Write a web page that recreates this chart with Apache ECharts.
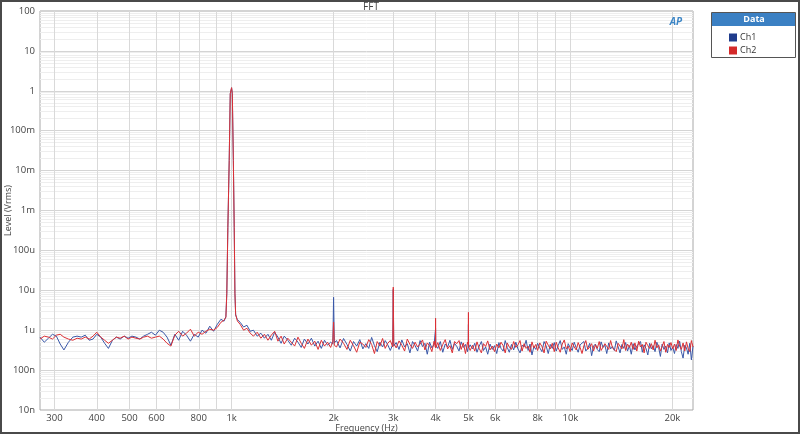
<!DOCTYPE html>
<html>
<head>
<meta charset="utf-8">
<script src="https://cdn.jsdelivr.net/npm/echarts@6/dist/echarts.min.js"></script>
<style>
html,body{margin:0;padding:0;background:#fff;}
#chart{width:800px;height:434px;}
</style>
</head>
<body>
<div id="chart"></div>
<script>
// Frequencies (Hz)
const freq = [
  272, 280, 288, 296, 304, 312, 320, 330, 340, 350,
  360, 370, 380, 390, 400, 411, 422, 433, 445, 457,
  469, 482, 495, 508, 522, 536, 550, 565, 580, 596,
  612, 628, 645, 662, 680, 698, 717, 736, 756, 776,
  797, 818, 840, 862, 885, 908, 930, 950, 962, 968,
  975, 984, 991, 1000, 1005, 1012, 1018, 1023, 1028, 1040,
  1060, 1085, 1110, 1135, 1160, 1190, 1220, 1250, 1280, 1310,
  1340, 1370, 1400, 1430, 1465, 1500, 1535, 1570, 1605, 1640,
  1680, 1720, 1760, 1800, 1840, 1880, 1920, 1960, 1990, 2000,
  2010, 2040, 2090, 2140, 2190, 2240, 2290, 2340, 2390, 2440,
  2490, 2540, 2590, 2640, 2690, 2740, 2790, 2840, 2890, 2940,
  2990, 3000, 3010, 3060, 3120, 3180, 3240, 3300, 3360, 3420,
  3480, 3540, 3600, 3660, 3720, 3780, 3840, 3900, 3960, 3995,
  4000, 4005, 4060, 4130, 4200, 4270, 4340, 4410, 4480, 4550,
  4620, 4690, 4760, 4830, 4900, 4970, 4995, 5000, 5005, 5060,
  5140, 5220, 5300, 5380, 5460, 5540, 5620, 5700, 5790, 5880,
  5970, 6060, 6150, 6240, 6330, 6420, 6510, 6600, 6700, 6800,
  6900, 7000, 7100, 7200, 7300, 7400, 7500, 7600, 7700, 7800,
  7900, 8000, 8120, 8240, 8360, 8480, 8600, 8720, 8840, 8960,
  9080, 9200, 9330, 9460, 9590, 9720, 9850, 9980, 10120, 10260,
  10400, 10540, 10680, 10820, 10960, 11100, 11250, 11400, 11550, 11700,
  11850, 12000, 12160, 12320, 12480, 12640, 12800, 12970, 13140, 13310,
  13480, 13650, 13830, 14010, 14190, 14370, 14550, 14740, 14930, 15120,
  15310, 15500, 15700, 15900, 16100, 16300, 16500, 16710, 16920, 17130,
  17340, 17550, 17770, 17990, 18210, 18430, 18650, 18880, 19110, 19340,
  19570, 19800, 20040, 20280, 20520, 20760, 21000, 21250, 21500, 21750,
  22000, 22250, 22500, 22750, 23000
];
// Ch1 level (µVrms)
const ch1 = [
  .67, .50, .63, .79, .71, .45, .32, .50, .67, .71,
  .67, .75, .56, .60, .79, .67, .47, .35, .56, .67,
  .60, .71, .63, .71, .67, .60, .71, .79, .89, .75,
  1.0, .89, .67, .42, .79, .56, .94, .75, .53, .79,
  .67, 1.0, .84, 1.26, .94, 1.41, 1.88, 1.68, 2.2, 8.4,
  376, 17800, 840000, 1190000, 840000, 17800, 376, 8.4, 2.4, 1.85,
  1.58, 1.2, 1.33, .94, 1.0, .71, .84, .63, .79, .56,
  .89, .67, .47, .71, .56, .42, .63, .50, .37, .60,
  .45, .63, .40, .53, .35, .56, .42, .50, .45, 6.7,
  .48, .55, .36, .62, .44, .30, .52, .40, .58, .34,
  .46, .35, .66, .41, .29, .50, .38, .55, .43, .31,
  .44, 10.5, .40, .49, .33, .57, .38, .46, .27, .52,
  .41, .30, .55, .39, .47, .25, .50, .36, .44, .40,
  1.1, .42, .35, .52, .28, .45, .38, .56, .33, .47,
  .39, .30, .51, .37, .44, .29, .40, 1.4, .36, .43,
  .34, .47, .28, .40, .52, .31, .38, .25, .45, .33,
  .41, .26, .49, .35, .30, .55, .37, .28, .44, .32,
  .50, .34, .27, .42, .38, .56, .31, .45, .24, .39,
  .33, .47, .36, .29, .52, .40, .26, .44, .35, .49,
  .30, .41, .55, .33, .38, .25, .46, .37, .31, .50,
  .36, .28, .43, .39, .52, .30, .35, .47, .23, .40,
  .45, .33, .29, .51, .37, .42, .26, .48, .34, .39,
  .31, .54, .38, .27, .44, .35, .49, .30, .41, .25,
  .46, .32, .40, .36, .52, .28, .43, .35, .24, .47,
  .34, .41, .29, .50, .37, .22, .45, .33, .40, .27,
  .48, .31, .38, .26, .44, .35, .53, .29, .20, .42,
  .36, .25, .47, .18, .40
];
// Ch2 level (µVrms)
const ch2 = [
  .60, .71, .67, .60, .75, .79, .67, .60, .56, .63,
  .60, .67, .60, .71, .89, .67, .56, .47, .56, .67,
  .63, .71, .60, .67, .63, .60, .67, .71, .63, .67,
  .71, .60, .47, .40, .75, .94, .71, .84, 1.06, .71,
  .89, .79, .94, 1.06, 1.0, 1.18, 1.58, 1.78, 2.1, 8.4,
  380, 18000, 850000, 1200000, 850000, 18000, 380, 8.5, 2.5, 1.7,
  1.4, 1.0, 1.12, .84, .71, .89, .63, .79, .56, .75,
  .94, .53, .71, .45, .63, .50, .40, .67, .47, .35,
  .60, .42, .53, .33, .56, .40, .50, .37, .53, 1.6,
  .42, .38, .60, .47, .33, .56, .41, .28, .50, .45,
  .37, .58, .44, .26, .52, .40, .62, .35, .47, .55,
  .38, 12.0, .47, .36, .54, .42, .30, .60, .44, .35,
  .50, .38, .45, .57, .32, .48, .41, .29, .53, .37,
  2.0, .36, .49, .31, .44, .58, .34, .41, .27, .52,
  .46, .55, .33, .48, .26, .50, .44, 2.8, .38, .31,
  .42, .30, .51, .35, .27, .46, .39, .54, .32, .40,
  .29, .45, .36, .50, .41, .27, .48, .38, .33, .52,
  .37, .43, .55, .30, .46, .35, .40, .28, .51, .36,
  .44, .31, .48, .39, .27, .53, .42, .34, .47, .29,
  .50, .36, .28, .45, .57, .34, .40, .29, .48, .38,
  .32, .49, .37, .26, .41, .55, .33, .38, .46, .30,
  .43, .35, .52, .31, .28, .46, .39, .33, .55, .36,
  .40, .29, .47, .42, .34, .58, .31, .45, .37, .50,
  .33, .48, .30, .53, .38, .44, .27, .50, .41, .35,
  .46, .32, .56, .36, .43, .30, .39, .52, .28, .44,
  .37, .49, .34, .45, .31, .57, .40, .33, .48, .30,
  .51, .35, .29, .55, .38
];
const seriesNames = ['Ch1', 'Ch2'];
const xTickValues = [300, 400, 500, 600, 800, 1000, 2000, 3000, 4000, 5000, 6000, 8000, 10000, 20000];
const xTickLabels = ['300', '400', '500', '600', '800', '1k', '2k', '3k', '4k', '5k', '6k', '8k', '10k', '20k'];
const xGridValues = [300, 400, 500, 600, 700, 800, 900, 1000, 2000, 3000, 4000, 5000, 6000, 7000, 8000, 9000, 10000, 20000];
const yTickValues = [1e-8, 1e-7, 1e-6, 1e-5, 1e-4, 1e-3, 1e-2, 1e-1, 1, 10, 100];
const yTickLabels = ['10n', '100n', '1u', '10u', '100u', '1m', '10m', '100m', '1', '10', '100'];
const yMinorValues = [];
yTickValues.slice(0, -1).forEach(d => { for (let k = 2; k <= 9; k++) yMinorValues.push(d * k); });

const FONT = '"Open Sans", "Noto Sans", sans-serif';
const toV = arr => arr.map((v, i) => [freq[i], v * 1e-6]);

const chart = echarts.init(document.getElementById('chart'), null, {renderer: 'canvas'});
const xLabelMap = {};
xTickValues.forEach((v, i) => xLabelMap[v] = xTickLabels[i]);
const yLabelFor = v => yTickLabels[Math.round(Math.log10(v)) + 8];

chart.setOption({
  animation: false,
  textStyle: {fontFamily: FONT},
  title: {
    text: 'FFT', left: 366, top: -3, textAlign: 'center',
    textStyle: {fontSize: 10, fontWeight: 'normal', color: '#444', fontFamily: FONT}
  },
  grid: {left: 40, top: 11, right: 107, bottom: 24, show: true, borderColor: '#a8a8a8', borderWidth: 1,
    backgroundColor: '#fff', containLabel: false, outerBoundsMode: 'none'},
  legend: {
    data: seriesNames, orient: 'vertical', left: 724, top: 28, itemGap: 4,
    itemWidth: 8, itemHeight: 8, icon: 'rect', z: 10,
    textStyle: {fontSize: 9, color: '#333', fontFamily: FONT, padding: [0, 0, 0, -2]}
  },
  xAxis: [{
    type: 'log', min: 272, max: 23000, logBase: 10,
    name: 'Frequency (Hz)', nameLocation: 'middle', nameGap: 14, nameMoveOverlap: false,
    nameTextStyle: {fontSize: 9, color: '#444', fontFamily: FONT},
    axisLine: {show: false},
    axisTick: {show: false, customValues: xGridValues},
    axisLabel: {customValues: xTickValues, formatter: v => xLabelMap[Math.round(v)] || '', fontSize: 9.5, color: '#444', margin: 3, fontFamily: FONT},
    splitLine: {show: true, lineStyle: {color: '#d9d9d9', width: 1}},
    minorSplitLine: {show: false}
  }],
  yAxis: [{
    type: 'log', min: 1e-8, max: 100, logBase: 10,
    name: 'Level (Vrms)', nameLocation: 'middle', nameGap: 27, nameRotate: 90, nameMoveOverlap: false,
    nameTextStyle: {fontSize: 9, color: '#444', fontFamily: FONT},
    axisLine: {show: false},
    axisTick: {show: false, customValues: yTickValues},
    axisLabel: {customValues: yTickValues, formatter: yLabelFor, fontSize: 9.5, color: '#444', margin: 5, fontFamily: FONT},
    splitLine: {show: true, lineStyle: {color: '#d4d4d4', width: 1}}
  }, {
    type: 'log', min: 1e-8, max: 100, logBase: 10, position: 'left',
    axisLine: {show: false},
    axisTick: {show: false, customValues: yMinorValues},
    axisLabel: {show: false},
    splitLine: {show: true, lineStyle: {color: '#eeeeee', width: 1}}
  }],
  series: [{
    name: seriesNames[0], type: 'line', data: toV(ch1), yAxisIndex: 0,
    showSymbol: false, symbol: 'none', color: '#1f3c8c',
    lineStyle: {width: 1, color: '#3a58a8'}, z: 3
  }, {
    name: seriesNames[1], type: 'line', data: toV(ch2), yAxisIndex: 0,
    showSymbol: false, symbol: 'none', color: '#d42a2a',
    lineStyle: {width: 1, color: '#dc3035'}, z: 4
  }],
  graphic: [
    {type: 'rect', shape: {x: 1, y: 1, width: 798, height: 432}, style: {fill: 'none', stroke: '#4a4a4a', lineWidth: 2}, z: 100, silent: true},
    {type: 'rect', shape: {x: 711.5, y: 12.5, width: 84, height: 45}, style: {fill: '#fff', stroke: '#555', lineWidth: 1}, z: 1},
    {type: 'rect', shape: {x: 712, y: 13, width: 83, height: 13}, style: {fill: '#3b80c3'}, z: 2},
    {type: 'text', x: 754, y: 19.5, style: {text: 'Data', fill: '#fff', font: 'bold 9px ' + FONT, textAlign: 'center', textVerticalAlign: 'middle'}, z: 3},
    {type: 'text', x: 676, y: 22, style: {text: 'AP', fill: '#3d86c6', font: 'italic bold 10px ' + FONT, textAlign: 'center', textVerticalAlign: 'middle'}, z: 5}
  ]
});
</script>
</body>
</html>
